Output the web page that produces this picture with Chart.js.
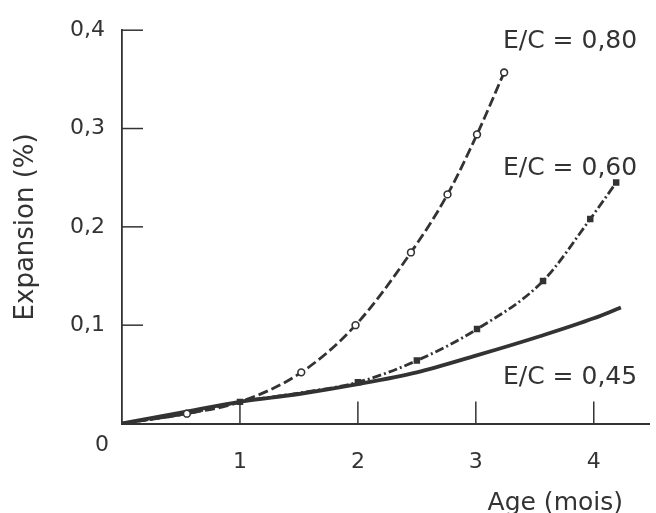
<!DOCTYPE html>
<html>
<head>
<meta charset="utf-8">
<script src="https://cdn.jsdelivr.net/npm/chart.js@4/dist/chart.umd.min.js"></script>
<style>
  html, body { margin: 0; padding: 0; background: #fff; }
  #wrap { width: 656px; height: 513px; }
</style>
</head>
<body>
<div id="wrap"><canvas id="myChart"></canvas></div>
<script>
// age in months / expansion in %
const ec80X = [0, 0.55, 1, 1.52, 1.98, 2.45, 2.76, 3.01, 3.24];
const ec80Y = [0, 0.010, 0.022, 0.052, 0.100, 0.174, 0.233, 0.294, 0.357];

const ec60X = [0, 0.55, 1, 1.5, 2, 2.5, 3.01, 3.57, 3.97, 4.19];
const ec60Y = [0, 0.010, 0.022, 0.031, 0.042, 0.064, 0.096, 0.145, 0.208, 0.245];

const ec45X = [0, 0.5, 1, 1.5, 2, 2.5, 3, 3.55, 4, 4.23];
const ec45Y = [0, 0.011, 0.022, 0.030, 0.040, 0.052, 0.069, 0.089, 0.107, 0.118];

const seriesNames = ["E/C = 0,80", "E/C = 0,60", "E/C = 0,45"];
const xTicks = [1, 2, 3, 4];
const yTicks = [0.1, 0.2, 0.3, 0.4];

const ink = "#333";
const font = "'DejaVu Sans', sans-serif";

function pts(xs, ys) {
  return xs.map((x, i) => ({ x: x, y: ys[i] }));
}

// inward ticks, origin "0", series labels and x title
const extras = {
  id: "extras",
  afterDraw(chart) {
    const ctx = chart.ctx;
    const xs = chart.scales.x;
    const ys = chart.scales.y;
    const area = chart.chartArea;
    ctx.save();
    ctx.strokeStyle = ink;
    ctx.lineWidth = 1.5;
    yTicks.forEach((v) => {
      const py = ys.getPixelForValue(v);
      ctx.beginPath();
      ctx.moveTo(area.left, py);
      ctx.lineTo(area.left + 21, py);
      ctx.stroke();
    });
    xTicks.forEach((v) => {
      const px = xs.getPixelForValue(v);
      ctx.beginPath();
      ctx.moveTo(px, area.bottom);
      ctx.lineTo(px, area.bottom - 22);
      ctx.stroke();
    });

    ctx.fillStyle = ink;
    ctx.font = "22px " + font;
    ctx.textAlign = "right";
    ctx.textBaseline = "middle";
    ctx.fillText("0", area.left - 13, ys.getPixelForValue(0) + 22);

    ctx.font = "25px " + font;
    ctx.textAlign = "left";
    ctx.fillText(seriesNames[0], 503, 41);
    ctx.fillText(seriesNames[1], 503, 168);
    ctx.fillText(seriesNames[2], 503, 377);

    ctx.textAlign = "right";
    ctx.fillText("Age (mois)", 623, 503);
    ctx.restore();
  },
};

new Chart("myChart", {
  type: "line",
  data: {
    datasets: [
      {
        label: seriesNames[0],
        data: pts(ec80X, ec80Y),
        borderColor: ink,
        borderWidth: 2.8,
        borderDash: [10, 4],
        pointRadius: ec80X.map((x) => (x === 0 || x === 1 ? 0 : 3.4)),
        pointBackgroundColor: "#fff",
        pointBorderColor: ink,
        pointBorderWidth: 1.6,
        cubicInterpolationMode: "monotone",
      },
      {
        label: seriesNames[1],
        data: pts(ec60X, ec60Y),
        borderColor: ink,
        borderWidth: 2.8,
        borderDash: [9, 3, 2, 3],
        pointRadius: ec60X.map((x) => (x === 0 || x === 0.55 || x === 1.5 ? 0 : 2.6)),
        pointStyle: "rect",
        pointBackgroundColor: ink,
        pointBorderColor: ink,
        cubicInterpolationMode: "monotone",
      },
      {
        label: seriesNames[2],
        data: pts(ec45X, ec45Y),
        borderColor: ink,
        borderWidth: 3.8,
        pointRadius: 0,
        cubicInterpolationMode: "monotone",
      },
    ],
  },
  options: {
    responsive: true,
    maintainAspectRatio: false,
    animation: false,
    layout: { padding: { top: 26, right: 0, bottom: 0, left: 0 } },
    plugins: {
      legend: { display: false },
      tooltip: { enabled: false },
    },
    scales: {
      x: {
        type: "linear",
        min: 0,
        max: 4.47,
        grid: { display: false, drawTicks: false },
        border: { display: true, color: ink, width: 2 },
        ticks: {
          stepSize: 1,
          includeBounds: false,
          padding: 26,
          color: ink,
          font: { family: font, size: 22 },
          callback: (v) => (v === 0 ? "" : String(v)),
        },
        afterFit: (scale) => {
          scale.height = 89.5;
        },
      },
      y: {
        min: 0,
        max: 0.4,
        grid: { display: false, drawTicks: false },
        border: { display: true, color: ink, width: 1.8 },
        ticks: {
          stepSize: 0.1,
          padding: 17,
          color: ink,
          font: { family: font, size: 22 },
          callback: (v) => (v === 0 ? "" : v.toFixed(1).replace(".", ",")),
        },
        title: {
          display: true,
          text: "Expansion (%)",
          color: ink,
          font: { family: font, size: 26 },
          padding: { top: 11, bottom: 0 },
        },
        afterFit: (scale) => {
          scale.width = 122;
        },
      },
    },
  },
  plugins: [extras],
});
</script>
</body>
</html>
